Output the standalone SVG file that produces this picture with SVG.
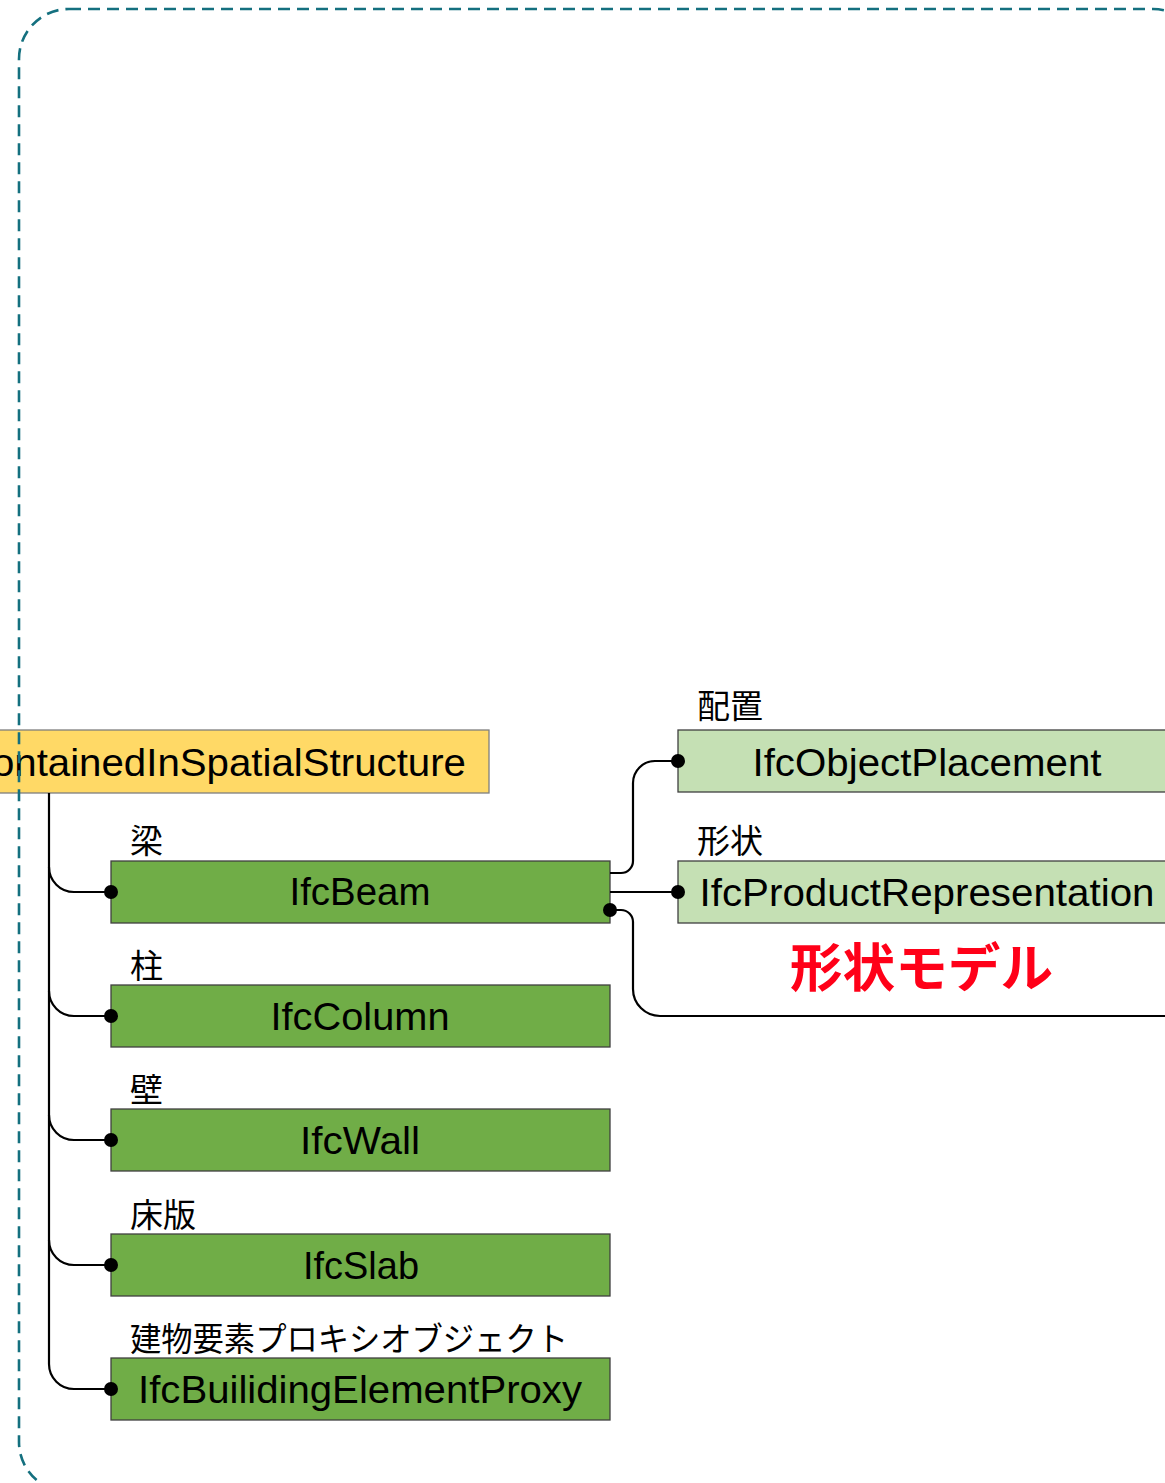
<svg xmlns="http://www.w3.org/2000/svg" width="1165" height="1483" viewBox="0 0 1165 1483">
<style>
.lat{font-family:"Liberation Sans",Arial,sans-serif;font-size:39px;fill:#000}
.jp{font-family:"Noto Sans CJK JP","Noto Sans",sans-serif;font-size:33px;fill:#000}
.dark{fill:#70AD47;stroke:#404040;stroke-width:1.3}
.light{fill:#C5E0B4;stroke:#404040;stroke-width:1.3}
.yel{fill:#FFD966;stroke:#7f7f7f;stroke-width:1.3}
.con{fill:none;stroke:#000;stroke-width:2.2}
.dot{fill:#000}
</style>
<g id="rel">
<rect class="yel" x="-140" y="730" width="629" height="63"/>
<text class="lat" x="466" y="776" text-anchor="end" textLength="606" lengthAdjust="spacingAndGlyphs">IfcRelContainedInSpatialStructure</text>
</g>
<rect x="19" y="9" width="1184" height="1483" rx="50" ry="50" fill="none" stroke="#14707F" stroke-width="2.6" stroke-dasharray="12 7"/>
<g id="beam">
<text class="jp" x="130" y="853">梁</text>
<rect class="dark" x="111" y="861" width="499" height="62"/>
<text class="lat" x="360" y="905" text-anchor="middle" textLength="141" lengthAdjust="spacingAndGlyphs">IfcBeam</text>
</g>
<g id="column">
<text class="jp" x="130" y="978">柱</text>
<rect class="dark" x="111" y="985" width="499" height="62"/>
<text class="lat" x="360" y="1030" text-anchor="middle" textLength="179" lengthAdjust="spacingAndGlyphs">IfcColumn</text>
</g>
<g id="wall">
<text class="jp" x="130" y="1102">壁</text>
<rect class="dark" x="111" y="1109" width="499" height="62"/>
<text class="lat" x="360" y="1154" text-anchor="middle" textLength="120" lengthAdjust="spacingAndGlyphs">IfcWall</text>
</g>
<g id="slab">
<text class="jp" x="130" y="1227">床版</text>
<rect class="dark" x="111" y="1234" width="499" height="62"/>
<text class="lat" x="361" y="1279" text-anchor="middle" textLength="116" lengthAdjust="spacingAndGlyphs">IfcSlab</text>
</g>
<g id="proxy">
<text class="jp" x="130" y="1351" textLength="438" lengthAdjust="spacingAndGlyphs">建物要素プロキシオブジェクト</text>
<rect class="dark" x="111" y="1358" width="499" height="62"/>
<text class="lat" x="360" y="1403" text-anchor="middle" textLength="444" lengthAdjust="spacingAndGlyphs">IfcBuilidingElementProxy</text>
</g>
<g id="placement">
<text class="jp" x="697" y="718">配置</text>
<rect class="light" x="678" y="730" width="499" height="62"/>
<text class="lat" x="927" y="776" text-anchor="middle" textLength="349" lengthAdjust="spacingAndGlyphs">IfcObjectPlacement</text>
</g>
<g id="representation">
<text class="jp" x="697" y="853">形状</text>
<rect class="light" x="678" y="861" width="499" height="62"/>
<text class="lat" x="927" y="906" text-anchor="middle" textLength="455" lengthAdjust="spacingAndGlyphs">IfcProductRepresentation</text>
</g>
<g id="shape-model">
<text x="790" y="987" textLength="263" lengthAdjust="spacingAndGlyphs" style="font-family:'Noto Sans CJK JP',sans-serif;font-size:52px;font-weight:bold;fill:#FF0018">形状モデル</text>
</g>
<g id="connectors">
<path class="con" d="M49,793 V1364 A25,25 0 0 0 74,1389 H111"/>
<path class="con" d="M49,867 A25,25 0 0 0 74,892 H111"/>
<path class="con" d="M49,991 A25,25 0 0 0 74,1016 H111"/>
<path class="con" d="M49,1115 A25,25 0 0 0 74,1140 H111"/>
<path class="con" d="M49,1240 A25,25 0 0 0 74,1265 H111"/>
<path class="con" d="M610,873 H621 A12,12 0 0 0 633,861 V783 A22,22 0 0 1 655,761 H678"/>
<path class="con" d="M610,892 H678"/>
<path class="con" d="M610,910 H621 A12,12 0 0 1 633,922 V989 A27,27 0 0 0 660,1016 H1170"/>
<circle class="dot" cx="111" cy="892" r="7"/>
<circle class="dot" cx="111" cy="1016" r="7"/>
<circle class="dot" cx="111" cy="1140" r="7"/>
<circle class="dot" cx="111" cy="1265" r="7"/>
<circle class="dot" cx="111" cy="1389" r="7"/>
<circle class="dot" cx="678" cy="761" r="7"/>
<circle class="dot" cx="678" cy="892" r="7"/>
<circle class="dot" cx="610" cy="910" r="7"/>
</g>
</svg>
